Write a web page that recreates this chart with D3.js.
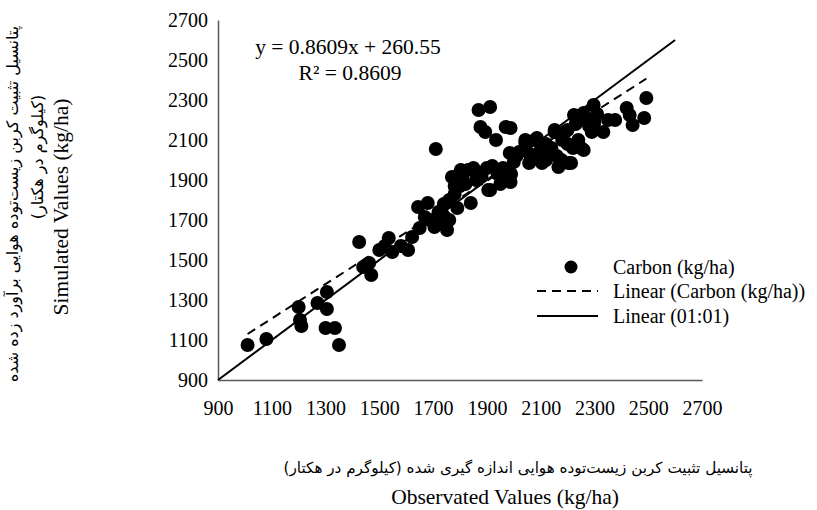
<!DOCTYPE html>
<html>
<head>
<meta charset="utf-8">
<script src="https://cdn.jsdelivr.net/npm/d3@7"></script>
<style>
  html, body { margin: 0; padding: 0; background: #fff; }
  svg { display: block; }
  .tick text { font-family: "Liberation Serif", "Times New Roman", serif; font-size: 20px; fill: #000; }
  .lbl { font-family: "Liberation Serif", "Times New Roman", serif; font-size: 20px; fill: #000; }
  .eq { font-size: 21.5px; }
  .title { font-size: 21.5px; }
  .fa { font-family: "DejaVu Sans", "Noto Sans", sans-serif; font-size: 16px; fill: #000; }
  .fa-x { font-size: 15.2px; }
</style>
</head>
<body>
<div id="chart"></div>
<script>
// observed (x) and simulated (y) carbon values, kg/ha
const observed = [
  1010, 1080, 1200, 1205, 1210, 1270, 1305, 1305, 1300, 1335, 1350,
  1425, 1440, 1462, 1470, 1500, 1535, 1548, 1520, 1607, 1622, 1644, 1680, 1669, 1705, 1752, 1690, 1650, 1580,
  1710,
  1720, 1740, 1760, 1770, 1780, 1790, 1800, 1803, 1810, 1790, 1830, 1840, 1850, 1820, 1760, 1740, 1720, 1780,
  1869, 1912, 1876, 1894, 1970, 1988, 1934,
  1860, 1876, 1880, 1900, 1905, 1920, 1940, 1960, 1978, 1988, 1950, 1990, 1985, 2000, 2010, 1912,
  2020, 2043, 2043, 2057, 2060, 2079, 2086, 2080, 2100, 2105, 2120, 2140, 2152, 2152, 2160, 2166, 2177, 2180,
  2200, 2203, 2213, 2120, 2200, 2190, 2224, 2220, 2230, 2240, 2250, 2260, 2260, 2270, 2280, 2290, 2297, 2300, 2310,
  2333, 2351, 2377, 2420, 2431, 2442, 2485, 2493
]
const simulated = [
  1075, 1105, 1265, 1200, 1170, 1285, 1340, 1255, 1160, 1160, 1075,
  1590, 1465, 1485, 1425, 1550, 1610, 1540, 1570, 1550, 1615, 1765, 1785, 1715, 1665, 1650, 1700, 1660, 1570,
  2055,
  1740, 1780, 1800, 1915, 1830, 1760, 1870, 1950, 1900, 1920, 1950, 1785, 1960, 1880, 1700, 1720, 1690, 1870,
  2250, 2265, 2165, 2140, 2165, 2160, 2100,
  1900, 1935, 1920, 1960, 1850, 1970, 1930, 1960, 1900, 1890, 1880, 1930, 2035, 1990, 2020, 1850,
  2040, 2085, 2100, 1985, 2030, 2100, 2110, 2010, 2050, 1985, 2080, 2060, 2140, 2150, 2020, 1965, 2000, 2100,
  2080, 1985, 1985, 2000, 2150, 2140, 2225, 2060, 2180, 2100, 2060, 2050, 2235, 2200, 2170, 2140, 2275, 2190, 2230,
  2140, 2200, 2200, 2260, 2225, 2175, 2210, 2310
]

const tickValues = [900, 1100, 1300, 1500, 1700, 1900, 2100, 2300, 2500, 2700]

// trend line from the fitted equation, 1:1 reference line
const slope = 0.8609
const intercept = 260.55
const rSquared = 0.8609
const oneToOne = [900, 2600]

const legendLabels = ['Carbon (kg/ha)', 'Linear (Carbon (kg/ha))', 'Linear (01:01)']

const W = 817
const H = 510

const svg = d3.select('#chart').append('svg')
  .attr('width', W)
  .attr('height', H)

const x = d3.scaleLinear().domain([900, 2700]).range([218, 702])
const y = d3.scaleLinear().domain([900, 2700]).range([380, 20])

// ---------- Axes ----------
const xAxis = svg.append('g')
  .attr('transform', `translate(0,${y(900)})`)
  .call(d3.axisBottom(x).tickValues(tickValues).tickSize(0).tickSizeOuter(0).tickPadding(21).tickFormat(d3.format('d')))
xAxis.select('.domain').attr('stroke', '#595959').attr('stroke-width', 1.5)

const yAxis = svg.append('g')
  .attr('transform', `translate(${x(900)},0)`)
  .call(d3.axisLeft(y).tickValues(tickValues).tickSize(0).tickSizeOuter(0).tickPadding(10).tickFormat(d3.format('d')))
yAxis.select('.domain').attr('stroke', '#595959').attr('stroke-width', 1.5)

// ---------- Lines ----------
const trendX = d3.extent(observed)
svg.append('line')
  .attr('x1', x(trendX[0])).attr('y1', y(slope * trendX[0] + intercept))
  .attr('x2', x(trendX[1])).attr('y2', y(slope * trendX[1] + intercept))
  .attr('stroke', '#000').attr('stroke-width', 2).attr('stroke-dasharray', '9,6')

svg.append('line')
  .attr('x1', x(oneToOne[0])).attr('y1', y(oneToOne[0]))
  .attr('x2', x(oneToOne[1])).attr('y2', y(oneToOne[1]))
  .attr('stroke', '#000').attr('stroke-width', 2)

// ---------- Points ----------
svg.append('g')
  .selectAll('circle')
  .data(d3.range(observed.length))
  .join('circle')
  .attr('cx', i => x(observed[i]))
  .attr('cy', i => y(simulated[i]))
  .attr('r', 7)
  .attr('fill', '#000')

// ---------- Equation ----------
svg.append('text').attr('class', 'lbl eq')
  .attr('x', 348).attr('y', 54).attr('text-anchor', 'middle')
  .text(`y = ${slope}x + ${intercept}`)
svg.append('text').attr('class', 'lbl eq')
  .attr('x', 350).attr('y', 80).attr('text-anchor', 'middle')
  .text(`R² = ${rSquared}`)

// ---------- Legend ----------
const legendY = [267, 291, 316]
const legend = svg.append('g')
legend.append('circle').attr('cx', 571).attr('cy', legendY[0]).attr('r', 6.5).attr('fill', '#000')
legend.append('line')
  .attr('x1', 537).attr('x2', 598).attr('y1', legendY[1]).attr('y2', legendY[1])
  .attr('stroke', '#000').attr('stroke-width', 2).attr('stroke-dasharray', '9,6')
legend.append('line')
  .attr('x1', 537).attr('x2', 598).attr('y1', legendY[2]).attr('y2', legendY[2])
  .attr('stroke', '#000').attr('stroke-width', 2)
legend.selectAll('text.leg')
  .data(legendLabels)
  .join('text')
  .attr('class', 'lbl leg')
  .attr('x', 613)
  .attr('y', (d, i) => legendY[i])
  .attr('dy', '0.35em')
  .text(d => d)

// ---------- Axis titles ----------
svg.append('text').attr('class', 'fa fa-x')
  .attr('x', 518).attr('y', 473).attr('text-anchor', 'middle')
  .attr('direction', 'rtl')
  .text('پتانسیل تثبیت کربن زیست‌توده هوایی اندازه گیری شده  (کیلوگرم در هکتار)')
svg.append('text').attr('class', 'lbl title')
  .attr('x', 505).attr('y', 504).attr('text-anchor', 'middle')
  .text('Observated Values (kg/ha)')

const yTitle = svg.append('g').attr('transform', 'translate(0,204) rotate(-90)')
yTitle.append('text').attr('class', 'fa')
  .attr('x', 0).attr('y', 18).attr('text-anchor', 'middle')
  .attr('direction', 'rtl')
  .text('پتانسیل تثبیت کربن زیست‌توده هوایی برآورد زده شده')
yTitle.append('text').attr('class', 'fa')
  .attr('x', 47).attr('y', 43).attr('text-anchor', 'middle')
  .attr('direction', 'rtl')
  .text('(کیلوگرم در هکتار)')
yTitle.append('text').attr('class', 'lbl title')
  .attr('x', -3).attr('y', 68).attr('text-anchor', 'middle')
  .text('Simulated Values (kg/ha)')
</script>
</body>
</html>
